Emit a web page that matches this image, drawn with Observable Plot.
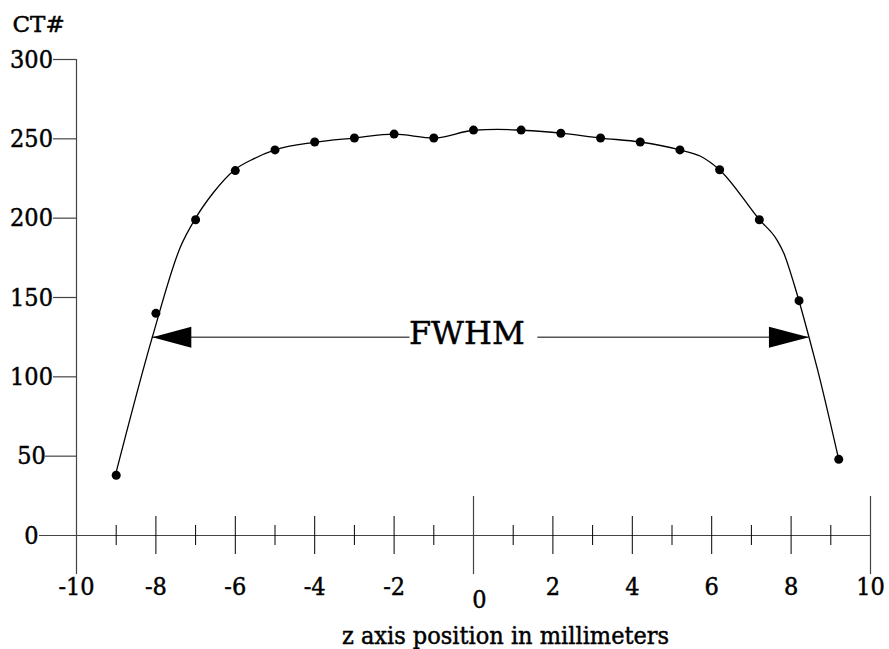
<!DOCTYPE html>
<html>
<head>
<meta charset="utf-8">
<script src="https://cdn.jsdelivr.net/npm/d3@7"></script>
<script src="https://cdn.jsdelivr.net/npm/@observablehq/plot@0.6"></script>
<style>
  html, body { margin: 0; padding: 0; background: #fff; }
  #chart svg { display: block; }
</style>
</head>
<body>
<div id="chart"></div>
<script>
// Measured points (z position in mm, CT#)
const zPos = [-9, -8, -7, -6, -5, -4, -3, -2, -1, 0, 1.2, 2.2, 3.2, 4.2, 5.2, 6.2, 7.2, 8.2, 9.2];
const ctValues = [38, 140, 199, 230, 243, 248, 250.5, 253, 250.5, 255.5, 255.5, 253.5, 250.5, 248, 243, 230.5, 199, 148, 48];

// Smooth profile curve
const curveZ = [-9.02, -8.09, -7.38, -7.0, -6.54, -6.02, -5.53, -5.0, -4, -3, -2, -1, 0, 0.6, 1.2, 2.2, 3.2, 4.2, 5.2, 5.72, 6.2, 7.2, 7.65, 7.82, 8.07, 8.2, 8.45, 8.66, 9.2];
const curveCT = [38, 125, 182, 200, 216.5, 230.4, 237.5, 243, 247.8, 250.5, 253, 250.5, 255.4, 256, 255.4, 253.6, 250.5, 248, 243, 239, 230.4, 199.1, 186, 177.7, 158.8, 147.8, 125.1, 105.2, 47.9];

// FWHM annotation
const fwhmLevel = 125;
const fwhmLeft = -8.09;
const fwhmRight = 8.45;
const fwhmLabel = "FWHM";
const fwhmLabelZ = -0.17;
const fwhmGapLeft = -1.6;
const fwhmGapRight = 1.62;

// Axes
const xTicks = [-10, -8, -6, -4, -2, 0, 2, 4, 6, 8, 10];
const xMinorTicks = [-9, -7, -5, -3, -1, 1, 3, 5, 7, 9];
const yTicks = [0, 50, 100, 150, 200, 250, 300];
const yTitle = "CT#";
const xTitle = "z axis position in millimeters";

const points = zPos.map((z, i) => ({z, ct: ctValues[i]}));
const curve = curveZ.map((z, i) => ({z, ct: curveCT[i]}));

const leftHead = {draw(ctx) { ctx.moveTo(0, 0); ctx.lineTo(39, -10.5); ctx.lineTo(39, 10.5); ctx.closePath(); }};
const rightHead = {draw(ctx) { ctx.moveTo(0, 0); ctx.lineTo(-40, -10.5); ctx.lineTo(-40, 10.5); ctx.closePath(); }};

const axisColor = "#444";
const condensed = "'DejaVu Serif Condensed', 'DejaVu Serif', serif";
const serif = "'DejaVu Serif', serif";
const font = 25;
const ink = {fill: "#000", stroke: "#000", strokeWidth: 0.45};

const chart = Plot.plot({
  width: 889,
  height: 649,
  marginLeft: 76,
  marginRight: 19,
  marginTop: 59,
  marginBottom: 114,
  x: {domain: [-10, 10], axis: null},
  y: {domain: [0, 300], axis: null},
  style: {fontFamily: serif, background: "#fff", color: "#000", overflow: "visible"},
  marks: [
    // y axis line (extends below the x axis)
    Plot.ruleX([-10], {stroke: axisColor, strokeWidth: 1.2, insetBottom: -39}),
    // x axis line (extends left to the 0 label)
    Plot.ruleY([0], {stroke: axisColor, strokeWidth: 1.2, insetLeft: -37}),
    // long marks at 0 and 10
    Plot.ruleX(xTicks.filter(d => d === 0 || d === 10), {y1: 0, y2: 0, insetTop: -39, insetBottom: -39, stroke: axisColor, strokeWidth: 1.2}),
    // major ticks
    Plot.ruleX(xTicks.filter(d => d !== 0 && Math.abs(d) !== 10), {y1: 0, y2: 0, insetTop: -19, insetBottom: -19, stroke: "#000", strokeWidth: 1}),
    // minor ticks
    Plot.ruleX(xMinorTicks, {y1: 0, y2: 0, insetTop: -10, insetBottom: -10, stroke: "#000", strokeWidth: 1}),
    // y ticks
    Plot.ruleY(yTicks.filter(d => d >= 100), {x1: -10, x2: -10, insetLeft: -23, stroke: axisColor, strokeWidth: 1.2}),
    Plot.ruleY(yTicks.filter(d => d > 0 && d < 100), {x1: -10, x2: -10, insetLeft: -31, stroke: axisColor, strokeWidth: 1.2}),
    // y tick labels
    Plot.text(yTicks, {x: -10, y: d => d, text: d => String(d), dx: -45, textAnchor: "middle", fontSize: font, fontFamily: condensed, ...ink}),
    // x tick labels
    Plot.text(xTicks.filter(d => d !== 0), {x: d => d, y: 0, text: d => String(d), dy: 51, textAnchor: "middle", fontSize: font, fontFamily: condensed, ...ink}),
    Plot.text(xTicks.filter(d => d === 0), {x: d => d, y: 0, text: d => String(d), dy: 64, dx: 6, textAnchor: "middle", fontSize: font, fontFamily: condensed, ...ink}),
    // titles
    Plot.text([yTitle], {frameAnchor: "top-left", text: d => d, dx: -64, dy: -35, textAnchor: "start", lineAnchor: "middle", fontSize: 23, fontFamily: serif, ...ink}),
    Plot.text([xTitle], {frameAnchor: "bottom", text: d => d, dx: 32, dy: 100, textAnchor: "middle", lineAnchor: "middle", fontSize: 25, fontFamily: condensed, ...ink}),
    // curve
    Plot.line(curve, {x: "z", y: "ct", curve: "monotone-x", stroke: "#000", strokeWidth: 1.3}),
    // measured points
    Plot.dot(points, {x: "z", y: "ct", r: 4.5, fill: "#000", stroke: "none"}),
    // FWHM arrow
    Plot.ruleY([fwhmLevel], {x1: fwhmLeft, x2: fwhmGapLeft, stroke: "#000", strokeWidth: 1}),
    Plot.ruleY([fwhmLevel], {x1: fwhmGapRight, x2: fwhmRight, stroke: "#000", strokeWidth: 1}),
    Plot.dot([fwhmLeft], {x: d => d, y: () => fwhmLevel, symbol: leftHead, fill: "#000", stroke: "none"}),
    Plot.dot([fwhmRight], {x: d => d, y: () => fwhmLevel, symbol: rightHead, fill: "#000", stroke: "none"}),
    Plot.text([fwhmLabel], {x: () => fwhmLabelZ, y: () => fwhmLevel, text: d => d, dy: -3, textAnchor: "middle", lineAnchor: "middle", fontSize: 32, fontFamily: serif, ...ink})
  ]
});
document.getElementById("chart").appendChild(chart);
</script>
</body>
</html>
